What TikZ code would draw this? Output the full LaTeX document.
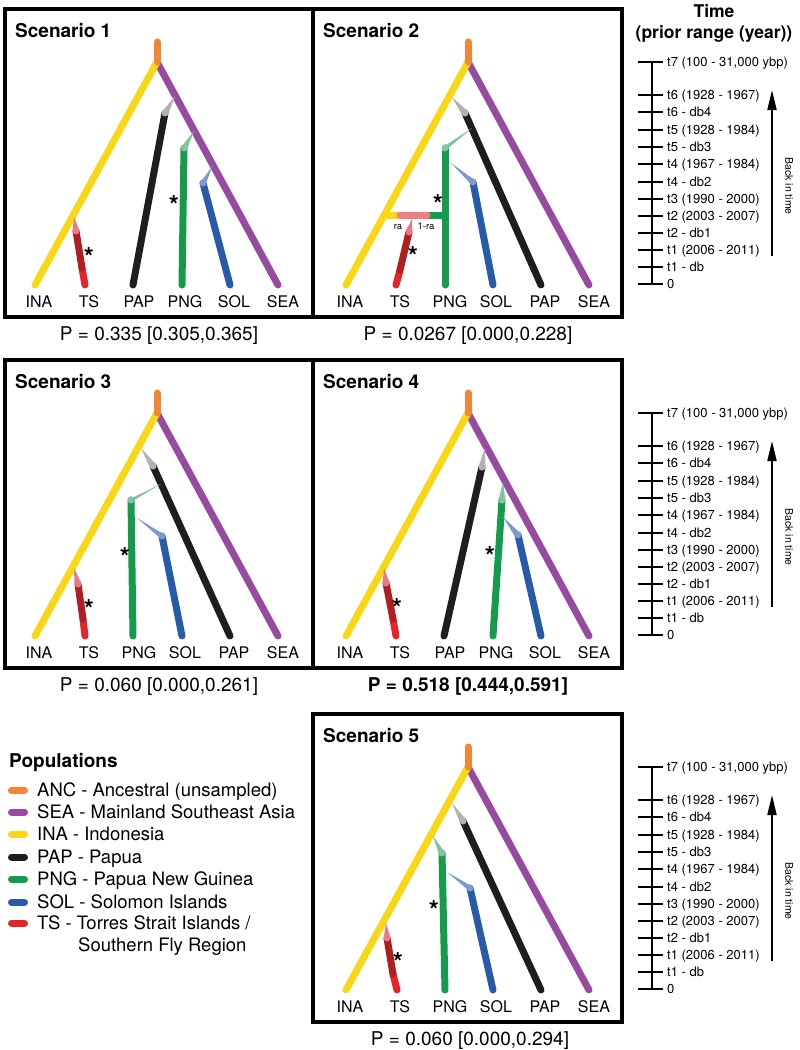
\documentclass[tikz,border=0pt]{standalone}
\usepackage{fontspec}
\setmainfont{TeX Gyre Heros}
\usetikzlibrary{calc,arrows.meta}
\definecolor{cANC}{RGB}{240,135,55}
\definecolor{cSEA}{RGB}{150,75,160}
\definecolor{cINA}{RGB}{250,215,20}
\definecolor{cPAP}{RGB}{30,30,30}
\definecolor{cPNG}{RGB}{20,155,75}
\definecolor{cSOL}{RGB}{40,90,170}
\definecolor{cTS}{RGB}{230,35,40}
\definecolor{cTSd}{RGB}{175,30,35}
\definecolor{lPAP}{RGB}{178,178,178}
\definecolor{lPNG}{RGB}{130,195,160}
\definecolor{lSOL}{RGB}{120,155,210}
\definecolor{lTS}{RGB}{235,120,130}
\definecolor{cMix}{RGB}{240,125,135}
\tikzset{
  br/.style={line width=7pt, line cap=round},
  lab/.style={font=\fontsize{16}{18}\selectfont, inner sep=0pt},
  ttl/.style={font=\bfseries\fontsize{19}{22}\selectfont, anchor=base west, inner sep=0pt},
  plab/.style={font=\fontsize{19}{22}\selectfont, anchor=base, inner sep=0pt},
  ast/.style={font=\bfseries\fontsize{26}{28}\selectfont, anchor=base, inner sep=0pt},
  mixlab/.style={font=\fontsize{9.5}{11}\selectfont, anchor=base, inner sep=0pt},
  frame/.style={line width=3.5pt},
  axisline/.style={line width=1.8pt},
  tlab/.style={font=\fontsize{13}{15}\selectfont, anchor=base west, inner sep=0pt},
  legtxt/.style={font=\fontsize{18.5}{21}\selectfont, anchor=base west, inner sep=0pt},
}
% light founding cone: #1 colour, #2 split point, #3 branch top, #4 branch tip
\newcommand{\foundcone}[4]{%
  \fill[#1] (#2) -- ($(#3)!3.5pt!90:(#4)$) -- ($(#3)!3.5pt!-90:(#4)$) -- cycle;
  \fill[#1] (#3) circle[radius=3.5pt];
}
\newcommand{\rootpart}{%
  \coordinate (R) at (157,62); \coordinate (Rt) at (157,42);
  \coordinate (INA) at (35,285); \coordinate (SEA) at (278,285);
  \draw[br,cSEA] (R) -- (SEA);
  \draw[br,cINA] (R) -- (INA);
  \draw[br,cANC] (Rt) -- (R);
}
\newcommand{\tsbranch}{%
  \draw[br,cTS] (tsM) -- (TS);
  \draw[br,cTSd] (tsB) -- (tsM);
  \foundcone{lTS}{tsS}{tsB}{TS}%
}
\newcommand{\timeaxis}[1]{%
  \begin{scope}[shift={(0,#1)}]
    \coordinate (axT) at (652,62); \coordinate (axB) at (652,284);
    \draw[axisline] (axT) -- (axB);
    \foreach \yy/\tt in {62/{t7 (100 - 31,000 ybp)}, 95/{t6 (1928 - 1967)}, 112/{t6 - db4},
        130/{t5 (1928 - 1984)}, 147/{t5 - db3}, 164/{t4 (1967 - 1984)}, 182/{t4 - db2},
        199/{t3 (1990 - 2000)}, 216/{t2 (2003 - 2007)}, 233/{t2 - db1},
        250/{t1 (2006 - 2011)}, 267/{t1 - db}, 284/{0}}{
      \coordinate (tkL) at (638,\yy); \coordinate (tkR) at (663,\yy);
      \draw[axisline] (tkL) -- (tkR);
      \node[tlab] (tkT) at (667,{\yy+4.6}) {\tt};
    }
    \coordinate (arB) at (772,256); \coordinate (arT) at (772,90);
    \draw[line width=2pt, -{Triangle[length=20pt,width=9pt]}] (arB) -- (arT);
    \node[font=\fontsize{10.5}{12}\selectfont, rotate=-90, inner sep=0pt] (back) at (789,186) {Back in time};
  \end{scope}
}
\begin{document}
\begin{tikzpicture}[x=1pt,y=-1pt]
\useasboundingbox (0,0) rectangle (800,1050);
\fill[white] (0,0) rectangle (800,1050);

% ---------- frames ----------
\draw[frame] (5,9) rectangle (313,317);
\draw[frame] (313,9) rectangle (622,317);
\draw[frame] (5,360) rectangle (313,668);
\draw[frame] (313,360) rectangle (622,668);
\draw[frame] (313,714) rectangle (622,1022);

% ---------- Scenario 1 ----------
\begin{scope}[shift={(0,0)}]
  \node[ttl] (t1) at (15,37) {Scenario 1};
  \rootpart
  \coordinate (papS) at (175,96); \coordinate (papB) at (165,113); \coordinate (PAP) at (133,285);
  \draw[br,cPAP] (papB) -- (PAP); \foundcone{lPAP}{papS}{papB}{PAP}
  \coordinate (pngS) at (194,131); \coordinate (pngB) at (184,148); \coordinate (PNG) at (182,285);
  \draw[br,cPNG] (pngB) -- (PNG); \foundcone{lPNG}{pngS}{pngB}{PNG}
  \coordinate (solS) at (213,165); \coordinate (solB) at (203,183); \coordinate (SOL) at (230,285);
  \draw[br,cSOL] (solB) -- (SOL); \foundcone{lSOL}{solS}{solB}{SOL}
  \coordinate (tsS) at (74,217); \coordinate (tsB) at (76,231); \coordinate (tsM) at (82,268); \coordinate (TS) at (85,285);
  \tsbranch
  \node[ast] (a1) at (174,214) {*};
  \node[ast] (a2) at (89,266) {*};
  \node[lab] (n1) at (39,302) {INA};
  \node[lab] (n2) at (89,302) {TS};
  \node[lab] (n3) at (139,302) {PAP};
  \node[lab] (n4) at (185,302) {PNG};
  \node[lab] (n5) at (234,302) {SOL};
  \node[lab] (n6) at (283,302) {SEA};
  \node[plab] (p1) at (159,340) {P = 0.335 [0.305,0.365]};
\end{scope}

% ---------- Scenario 2 ----------
\begin{scope}[shift={(311,0)}]
  \node[ttl] (t2) at (12,37) {Scenario 2};
  \rootpart
  \coordinate (papS) at (141,97); \coordinate (papB) at (154,113); \coordinate (PAP) at (230,285);
  \draw[br,cPAP] (papB) -- (PAP); \foundcone{lPAP}{papS}{papB}{PAP}
  \coordinate (pngS) at (161,128); \coordinate (pngB) at (134,148); \coordinate (PNG) at (134,285);
  \draw[br,cPNG] (pngB) -- (PNG); \foundcone{lPNG}{pngS}{pngB}{PNG}
  \coordinate (solS) at (140,163); \coordinate (solB) at (162,182); \coordinate (SOL) at (182,285);
  \draw[br,cSOL] (solB) -- (SOL); \foundcone{lSOL}{solS}{solB}{SOL}
  \coordinate (bY) at (73,215); \coordinate (bP1) at (89,215); \coordinate (bP2) at (116,215); \coordinate (bG) at (134,215);
  \draw[br,cPNG] (bP2) -- (bG);
  \draw[br,cINA] (bY) -- (bP1);
  \coordinate (tsS) at (101,219); \coordinate (tsB) at (98,232); \coordinate (tsM) at (89,270); \coordinate (TS) at (85,285);
  \tsbranch
  \draw[br,cMix] (bP1) -- (bP2);
  \node[mixlab] (ra) at (87,229) {ra};
  \node[mixlab] (ra1) at (115,229) {1-ra};
  \node[ast] (a3) at (127,213) {*};
  \node[ast] (a4) at (102,265) {*};
  \node[lab] (m1) at (39,302) {INA};
  \node[lab] (m2) at (89,302) {TS};
  \node[lab] (m3) at (139,302) {PNG};
  \node[lab] (m4) at (185,302) {SOL};
  \node[lab] (m5) at (234,302) {PAP};
  \node[lab] (m6) at (283,302) {SEA};
  \node[plab] (p2) at (157,340) {P = 0.0267 [0.000,0.228]};
\end{scope}

% ---------- Scenario 3 ----------
\begin{scope}[shift={(0,351)}]
  \node[ttl] (t3) at (15,37) {Scenario 3};
  \rootpart
  \coordinate (papS) at (141,97); \coordinate (papB) at (153,115); \coordinate (PAP) at (230,285);
  \draw[br,cPAP] (papB) -- (PAP); \foundcone{lPAP}{papS}{papB}{PAP}
  \coordinate (pngS) at (161,133); \coordinate (pngB) at (131,149); \coordinate (PNG) at (133,285);
  \draw[br,cPNG] (pngB) -- (PNG); \foundcone{lPNG}{pngS}{pngB}{PNG}
  \coordinate (solS) at (137,167); \coordinate (solB) at (162,185); \coordinate (SOL) at (182,285);
  \draw[br,cSOL] (solB) -- (SOL); \foundcone{lSOL}{solS}{solB}{SOL}
  \coordinate (tsS) at (74,217); \coordinate (tsB) at (78,233); \coordinate (tsM) at (83,268); \coordinate (TS) at (85,285);
  \tsbranch
  \node[ast] (a5) at (125,215) {*};
  \node[ast] (a6) at (89,267) {*};
  \node[lab] (k1) at (39,302) {INA};
  \node[lab] (k2) at (89,302) {TS};
  \node[lab] (k3) at (139,302) {PNG};
  \node[lab] (k4) at (185,302) {SOL};
  \node[lab] (k5) at (234,302) {PAP};
  \node[lab] (k6) at (283,302) {SEA};
  \node[plab] (p3) at (159,340) {P = 0.060 [0.000,0.261]};
\end{scope}

% ---------- Scenario 4 ----------
\begin{scope}[shift={(311,351)}]
  \node[ttl] (t4) at (12,37) {Scenario 4};
  \rootpart
  \coordinate (papS) at (174,97); \coordinate (papB) at (171,116); \coordinate (PAP) at (133,285);
  \draw[br,cPAP] (papB) -- (PAP); \foundcone{lPAP}{papS}{papB}{PAP}
  \coordinate (pngS) at (192,131); \coordinate (pngB) at (191,149); \coordinate (PNG) at (182,285);
  \draw[br,cPNG] (pngB) -- (PNG); \foundcone{lPNG}{pngS}{pngB}{PNG}
  \coordinate (solS) at (192,166); \coordinate (solB) at (207,184); \coordinate (SOL) at (230,285);
  \draw[br,cSOL] (solB) -- (SOL); \foundcone{lSOL}{solS}{solB}{SOL}
  \coordinate (tsS) at (73,217); \coordinate (tsB) at (75,232); \coordinate (tsM) at (82,268); \coordinate (TS) at (85,285);
  \tsbranch
  \node[ast] (a7) at (179,214) {*};
  \node[ast] (a8) at (86,266) {*};
  \node[lab] (q1) at (39,302) {INA};
  \node[lab] (q2) at (89,302) {TS};
  \node[lab] (q3) at (139,302) {PAP};
  \node[lab] (q4) at (185,302) {PNG};
  \node[lab] (q5) at (234,302) {SOL};
  \node[lab] (q6) at (283,302) {SEA};
  \node[plab, font=\bfseries\fontsize{19}{22}\selectfont] (p4) at (157,340) {P = 0.518 [0.444,0.591]};
\end{scope}

% ---------- Scenario 5 ----------
\begin{scope}[shift={(311,705)}]
  \node[ttl] (t5) at (12,37) {Scenario 5};
  \rootpart
  \coordinate (papS) at (141,98); \coordinate (papB) at (152,116); \coordinate (PAP) at (230,285);
  \draw[br,cPAP] (papB) -- (PAP); \foundcone{lPAP}{papS}{papB}{PAP}
  \coordinate (pngS) at (122,131); \coordinate (pngB) at (131,148); \coordinate (PNG) at (134,285);
  \draw[br,cPNG] (pngB) -- (PNG); \foundcone{lPNG}{pngS}{pngB}{PNG}
  \coordinate (solS) at (136,167); \coordinate (solB) at (159,183); \coordinate (SOL) at (182,285);
  \draw[br,cSOL] (solB) -- (SOL); \foundcone{lSOL}{solS}{solB}{SOL}
  \coordinate (tsS) at (75,218); \coordinate (tsB) at (76,233); \coordinate (tsM) at (82,269); \coordinate (TS) at (86,285);
  \tsbranch
  \node[ast] (a9) at (123,214) {*};
  \node[ast] (a10) at (87,266) {*};
  \node[lab] (r1) at (39,302) {INA};
  \node[lab] (r2) at (89,302) {TS};
  \node[lab] (r3) at (139,302) {PNG};
  \node[lab] (r4) at (185,302) {SOL};
  \node[lab] (r5) at (234,302) {PAP};
  \node[lab] (r6) at (283,302) {SEA};
  \node[plab] (p5) at (159,340) {P = 0.060 [0.000,0.294]};
\end{scope}

% ---------- time axes ----------
\node[font=\bfseries\fontsize{17.5}{20}\selectfont, anchor=base, inner sep=0pt] (time) at (714,17) {Time};
\node[font=\bfseries\fontsize{17.5}{20}\selectfont, anchor=base, inner sep=0pt] (prior) at (714,38) {(prior range (year))};
\timeaxis{0}
\timeaxis{351}
\timeaxis{705}

% ---------- legend ----------
\node[font=\bfseries\fontsize{19}{22}\selectfont, anchor=base west, inner sep=0pt] (pop) at (9,767) {Populations};
\foreach \yy/\cc/\tt in {790/cANC/{ANC - Ancestral (unsampled)}, 812/cSEA/{SEA - Mainland Southeast Asia},
    834/cINA/{INA - Indonesia}, 857/cPAP/{PAP - Papua}, 879/cPNG/{PNG - Papua New Guinea},
    902/cSOL/{SOL - Solomon Islands}, 923/cTS/{TS - Torres Strait Islands /}}{
  \coordinate (swL) at (11.5,\yy); \coordinate (swR) at (24.5,\yy);
  \draw[line width=7pt, line cap=round, \cc] (swL) -- (swR);
  \node[legtxt] (lg) at (37,{\yy+6.6}) {\tt};
}
\node[legtxt] (lgts) at (78,951.6) {Southern Fly Region};
\end{tikzpicture}
\end{document}
